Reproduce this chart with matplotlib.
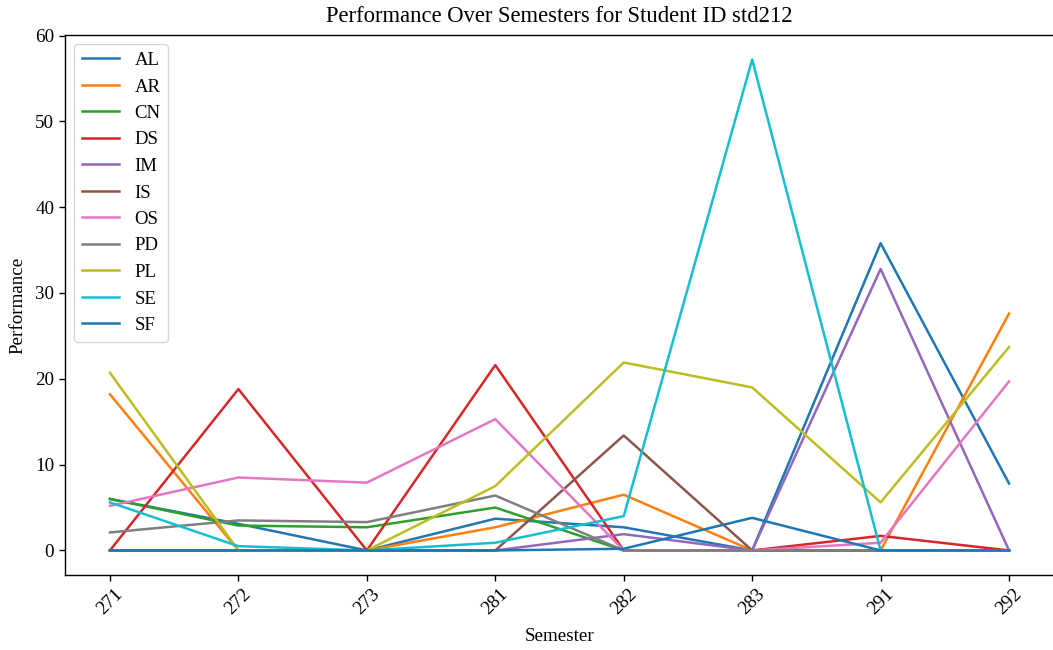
import numpy as np
import matplotlib
matplotlib.use("Agg")
import matplotlib.pyplot as plt

plt.rcParams['font.family'] = ['Liberation Serif', 'DejaVu Serif']

semesters = ["271", "272", "273", "281", "282", "283", "291", "292"]

AL = [6.0, 3.1, 0.0, 3.7, 2.7, 0.0, 35.8, 7.8]
AR = [18.2, 0.0, 0.0, 2.7, 6.5, 0.0, 0.0, 27.6]
CN = [6.0, 2.9, 2.7, 5.0, 0.0, 0.0, 0.0, 0.0]
DS = [0.0, 18.8, 0.0, 21.6, 0.0, 0.0, 1.7, 0.0]
IM = [0.0, 0.0, 0.0, 0.0, 1.9, 0.0, 32.8, 0.0]
IS = [0.0, 0.0, 0.0, 0.0, 13.4, 0.0, 0.0, 0.0]
OS = [5.2, 8.5, 7.9, 15.3, 0.0, 0.0, 0.9, 19.7]
PD = [2.1, 3.5, 3.3, 6.4, 0.0, 0.0, 0.0, 0.0]
PL = [20.7, 0.0, 0.0, 7.5, 21.9, 19.0, 5.6, 23.7]
SE = [5.6, 0.5, 0.0, 0.9, 4.0, 57.2, 0.0, 0.0]
SF = [0.0, 0.0, 0.0, 0.0, 0.2, 3.8, 0.0, 0.0]

subjects = ["AL", "AR", "CN", "DS", "IM", "IS", "OS", "PD", "PL", "SE", "SF"]
values = [AL, AR, CN, DS, IM, IS, OS, PD, PL, SE, SF]

fig = plt.figure(figsize=(10.53, 6.5), dpi=100)
ax = fig.add_axes([65 / 1053, 75 / 650, 989 / 1053, 540 / 650])

for name, vals in zip(subjects, values):
    ax.plot(semesters, vals, label=name, linewidth=1.8)

ax.set_title("Performance Over Semesters for Student ID std212", fontsize=16.3, pad=9)
ax.set_xlabel("Semester", fontsize=13.7, labelpad=7)
ax.set_ylabel("Performance", fontsize=13.7, labelpad=6)
ax.tick_params(labelsize=13.7, length=4.3, width=1.0)
for s in ax.spines.values():
    s.set_linewidth(1.0)
plt.xticks(rotation=45)
ax.legend(loc="upper left", fontsize=13.5)

plt.savefig("out.png", dpi=100)
